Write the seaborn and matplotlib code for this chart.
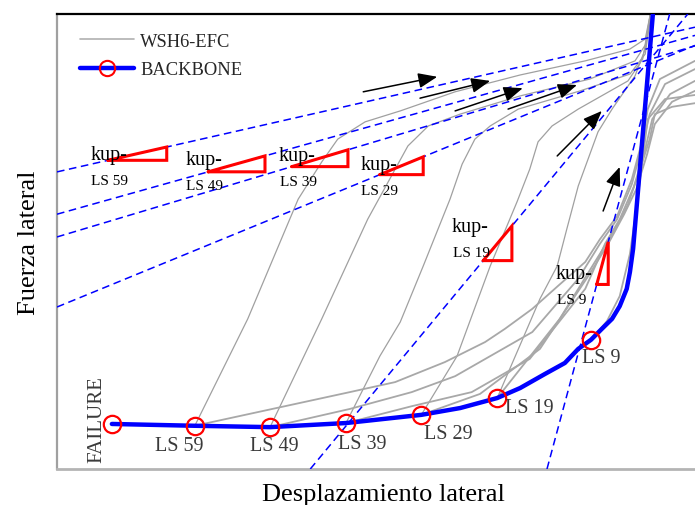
import matplotlib
matplotlib.use("Agg")
import matplotlib.pyplot as plt
from matplotlib.lines import Line2D
import pandas as pd
import seaborn as sns

# Backbone envelope: failure point, limit states LS 59 ... LS 9, then the steep branch
bb_x = [8.6, 21.6, 33.4, 45.3, 57.1, 63.2, 69.0, 72.6, 76.5, 79.6, 81.7, 83.7, 85.4, 87.0, 88.2, 89.3, 89.8, 90.3, 93.4]
bb_y = [9.9, 9.5, 9.2, 10.1, 11.9, 13.4, 15.6, 17.8, 20.9, 23.3, 26.4, 28.4, 30.8, 33.0, 35.8, 39.6, 43.3, 48.4, 100.0]
ls_names = ["LS 59", "LS 49", "LS 39", "LS 29", "LS 19", "LS 9"]
ls_x = [8.6, 21.6, 33.4, 45.3, 57.1, 69.0, 83.7]
ls_y = [9.9, 9.5, 9.2, 10.1, 11.9, 15.6, 28.4]

# Reloading branches of WSH6-EFC starting at each limit state
r59_x = [21.6, 29.9, 37.8, 41.5, 44.0, 48.3, 53.8, 62.4, 72.6, 82.8, 89.8, 92.2, 93.0]
r59_y = [9.5, 33.0, 59.3, 67.5, 72.5, 76.3, 78.7, 82.9, 86.6, 89.7, 92.3, 94.5, 100.0]
r49_x = [33.4, 41.5, 48.7, 55.0, 58.2, 63.2, 72.6, 83.5, 90.6, 92.3, 93.1]
r49_y = [9.2, 33.0, 54.9, 71.0, 75.4, 78.0, 82.0, 85.7, 89.7, 93.4, 100.0]
r39_x = [45.3, 50.6, 53.8, 57.4, 61.6, 63.5, 65.5, 67.9, 72.3, 82.0, 89.8, 92.2, 93.1]
r39_y = [10.1, 24.8, 32.3, 44.6, 59.3, 67.0, 72.5, 75.4, 79.1, 83.1, 86.8, 91.2, 100.0]
r29_x = [57.1, 62.7, 67.9, 72.1, 74.1, 75.4, 77.6, 81.7, 89.5, 91.8, 93.0]
r29_y = [11.9, 24.8, 44.6, 58.7, 65.9, 71.9, 75.4, 79.1, 85.3, 90.1, 100.0]
r19_x = [69.0, 73.0, 75.7, 78.4, 79.9, 81.7, 84.8, 87.0, 90.6, 92.2, 93.0]
r19_y = [15.6, 28.6, 37.4, 44.6, 52.7, 62.2, 74.1, 79.1, 86.4, 92.3, 100.0]

# Low branches that follow the envelope and softening tails on the right
l1_x = [21.6, 45.9, 53.0, 60.8, 67.1, 70.2, 74.5, 78.5, 82.8, 85.1, 87.8, 90.1, 91.8, 92.6, 94.5, 100.0]
l1_y = [9.5, 16.9, 19.1, 23.5, 27.9, 30.8, 35.2, 40.2, 45.5, 50.5, 55.6, 63.7, 72.5, 79.1, 85.7, 89.7]
l2_x = [33.4, 45.9, 55.6, 62.4, 74.5, 81.7, 85.1, 87.8, 90.1, 91.8, 92.9, 95.3, 100.0]
l2_y = [9.2, 13.2, 16.9, 20.4, 30.1, 41.8, 49.5, 54.9, 62.6, 71.4, 78.0, 84.6, 87.9]
l3_x = [45.3, 55.6, 65.0, 74.1, 82.8, 85.9, 88.2, 90.4, 92.2, 93.3, 96.1, 100.0]
l3_y = [10.1, 13.8, 16.9, 24.2, 39.6, 49.5, 54.9, 62.0, 70.3, 76.9, 82.4, 85.3]
l4_x = [57.1, 66.3, 75.7, 83.5, 86.4, 88.9, 90.8, 92.5, 93.7, 96.4, 100.0]
l4_y = [11.9, 16.5, 26.4, 42.9, 49.5, 56.0, 61.5, 69.2, 75.8, 80.7, 83.1]
l5_x = [69.0, 78.8, 85.1, 87.5, 89.5, 91.4, 92.9, 93.7, 96.4, 100.0]
l5_y = [15.6, 33.0, 47.3, 52.7, 58.2, 65.9, 72.5, 78.0, 79.6, 80.4]
l6_x = [83.7, 86.2, 88.2, 89.8, 90.8, 91.7, 92.6, 95.3, 100.0]
l6_y = [28.4, 32.5, 38.0, 47.3, 57.1, 67.0, 76.9, 81.3, 82.2]

# Unloading stiffness lines k_up: anchor point and slope, with triangle spans
kup_x0 = [0.0, 0.0, 0.0, 0.0, 39.7, 76.8]
kup_y0 = [65.3, 56.0, 51.0, 35.6, 0.0, 0.0]
kup_slope = [0.318, 0.393, 0.42, 0.575, 1.69, 5.2]
tri_x0 = [8.0, 23.7, 36.8, 50.6, 66.8, 84.6]
tri_x1 = [17.2, 32.6, 45.6, 57.4, 71.3, 86.4]


def long_frame(curves):
    frames = []
    for i, (xs, ys) in enumerate(curves):
        frames.append(pd.DataFrame({"d": xs, "f": ys, "curve": i}))
    return pd.concat(frames, ignore_index=True)


reload_df = long_frame([(r59_x, r59_y), (r49_x, r49_y), (r39_x, r39_y),
                        (r29_x, r29_y), (r19_x, r19_y)])
low_df = long_frame([(l1_x, l1_y), (l2_x, l2_y), (l3_x, l3_y),
                     (l4_x, l4_y), (l5_x, l5_y), (l6_x, l6_y)])

sns.set_theme(style="white")
plt.rcParams["font.family"] = ["Liberation Serif", "DejaVu Serif"]

fig = plt.figure(figsize=(6.95, 5.06), dpi=100)
ax = fig.add_axes([57 / 695, 36 / 506, 638 / 695, 455 / 506])

gray = "#a0a0a0"
sns.lineplot(data=reload_df, x="d", y="f", units="curve", estimator=None, sort=False,
             color=gray, lw=0.9, legend=False, ax=ax)
sns.lineplot(data=low_df, x="d", y="f", units="curve", estimator=None, sort=False,
             color="#a8a8a8", lw=1.3, legend=False, ax=ax)

# dashed k_up lines
for x0, y0, m in zip(kup_x0, kup_y0, kup_slope):
    ax.axline((x0, y0), slope=m, color="#0000ff", lw=1.1, ls=(0, (5, 3)), zorder=3)

# backbone and limit-state markers
sns.lineplot(x=bb_x, y=bb_y, sort=False, estimator=None, color="#0000ff", lw=3.2,
             ax=ax, zorder=4)
ax.plot(ls_x, ls_y, ls="none", marker="o", ms=12.5, mfc="none", mec="#ff0000",
        mew=1.6, zorder=5)

# k_up triangles and labels
kup_label_xy = [(5.3, 69.2), (20.1, 68.1), (34.8, 68.8), (47.6, 67.0), (61.9, 53.2), (78.2, 42.9)]
for x0, y0, m, a, b, name, (tx, ty) in zip(kup_x0, kup_y0, kup_slope, tri_x0, tri_x1,
                                            ls_names, kup_label_xy):
    ya = y0 + m * (a - x0)
    yb = y0 + m * (b - x0)
    ax.plot([a, b, b, a], [ya, yb, ya, ya], color="#ff0000", lw=2.2, zorder=6,
            solid_joinstyle="miter")
    ax.text(tx, ty, "kup-", fontsize=14.5, ha="left", va="center", color="black", zorder=7)
    ax.text(tx + 0.1, ty - 5.7, name, fontsize=11, ha="left", va="center",
            color="black", zorder=7)

# limit-state labels along the backbone
ls_label_xy = [(19.2, 5.1), (34.0, 5.1), (47.8, 5.5), (61.3, 7.9), (74.1, 13.6), (85.3, 24.6)]
for name, (tx, ty) in zip(ls_names, ls_label_xy):
    ax.text(tx, ty, name, fontsize=14.5, ha="center", va="center", color="#3a3a3a", zorder=7)
ax.text(6.2, 11.0, "FAILURE", fontsize=15, rotation=90, ha="center", va="center",
        color="#3a3a3a", zorder=7)

# loading-direction arrows
arrow_from = [(48.0, 82.9), (56.9, 81.5), (62.4, 78.7), (70.7, 79.1), (78.4, 68.8), (85.6, 56.7)]
arrow_to = [(59.6, 86.2), (67.9, 85.3), (73.0, 83.7), (81.5, 84.4), (85.4, 78.7), (88.2, 66.4)]
for p0, p1 in zip(arrow_from, arrow_to):
    ax.annotate("", xy=p1, xytext=p0,
                arrowprops=dict(arrowstyle="-|>,head_length=0.55,head_width=0.22",
                                color="black", lw=1.1, shrinkA=0, shrinkB=0,
                                mutation_scale=21), zorder=8)

ax.set_xlim(0, 100)
ax.set_ylim(0, 100)
ax.set_xticks([])
ax.set_yticks([])
ax.set_xlabel("Desplazamiento lateral", fontsize=19, labelpad=9, color="black")
ax.xaxis.set_label_coords(0.511, -0.03)
ax.set_ylabel("Fuerza lateral", fontsize=19, labelpad=12, color="black")

ax.spines["right"].set_visible(False)
ax.spines["top"].set_color("black")
ax.spines["top"].set_linewidth(1.6)
ax.spines["left"].set_color("#a0a0a0")
ax.spines["left"].set_linewidth(1.6)
ax.spines["bottom"].set_color("#b4b4b4")
ax.spines["bottom"].set_linewidth(2.0)

handles = [
    Line2D([], [], color="#b0b0b0", lw=1.2),
    Line2D([], [], color="#0000ff", lw=3.2, marker="o", ms=11, mfc="none",
           mec="#ff0000", mew=1.5),
]
ax.legend(handles, ["WSH6-EFC", "BACKBONE"], loc="upper left", bbox_to_anchor=(0.01, 0.995),
          frameon=False, fontsize=13.3, handlelength=2.9, handletextpad=0.35,
          labelspacing=0.6)

fig.savefig("out.png", dpi=100)
